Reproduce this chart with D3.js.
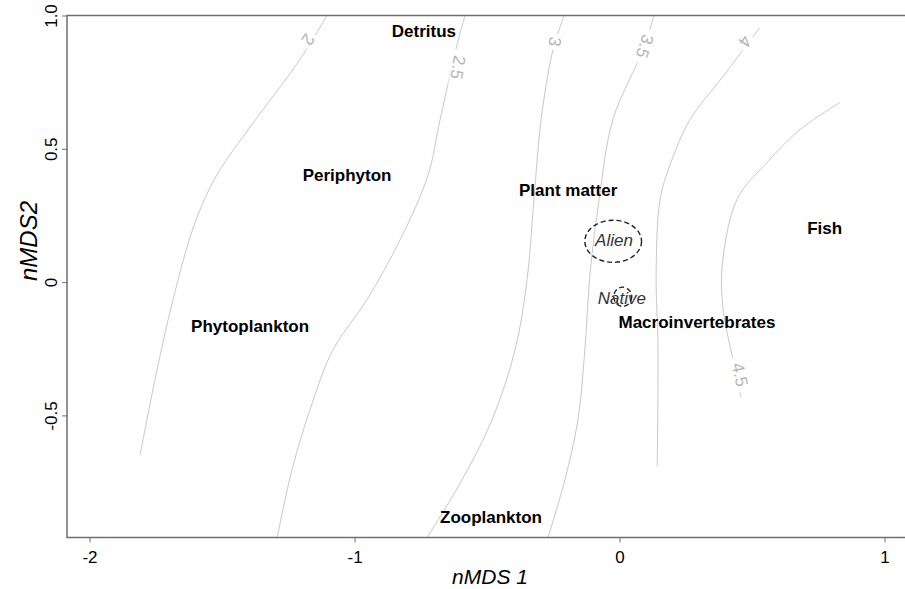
<!DOCTYPE html>
<html><head><meta charset="utf-8">
<script src="https://cdn.jsdelivr.net/npm/d3@7"></script>
<style>body{margin:0;background:#fff}svg{display:block}</style>
</head><body>
<script>
// ---- data ----
const xTicks = [-2, -1, 0, 1];
const xTickLabels = ["-2", "-1", "0", "1"];
const yTicks = [-0.5, 0, 0.5, 1.0];
const yTickLabels = ["-0.5", "0", "0.5", "1.0"];

const contourLevels = ["2", "2.5", "3", "3.5", "4", "4.5"];
const contour2 = [[-1.104,1.0],[-1.206,0.835],[-1.387,0.591],[-1.519,0.403],[-1.602,0.223],[-1.685,-0.066],[-1.753,-0.366],[-1.809,-0.647]];
const contour25 = [[-0.583,1.0],[-0.613,0.891],[-0.677,0.610],[-0.723,0.400],[-0.828,0.159],[-0.953,-0.066],[-1.081,-0.253],[-1.168,-0.478],[-1.236,-0.704],[-1.292,-0.958]];
const contour3 = [[-0.209,1.0],[-0.251,0.872],[-0.296,0.610],[-0.323,0.310],[-0.349,0.009],[-0.394,-0.253],[-0.481,-0.516],[-0.594,-0.741],[-0.726,-0.958]];
const contour35 = [[0.130,1.0],[0.089,0.872],[-0.025,0.610],[-0.077,0.310],[-0.111,0.036],[-0.130,-0.242],[-0.157,-0.516],[-0.206,-0.741],[-0.270,-0.958]];
const contour4 = [[0.530,0.955],[0.387,0.767],[0.266,0.610],[0.191,0.441],[0.153,0.310],[0.138,0.036],[0.145,-0.242],[0.142,-0.692]];
const contour45 = [[0.832,0.674],[0.681,0.572],[0.549,0.441],[0.443,0.310],[0.387,0.058],[0.391,-0.103],[0.428,-0.291],[0.458,-0.433]];
const contourLines = [contour2, contour25, contour3, contour35, contour4, contour45];
// label anchor position and angle (deg) for each contour level
const contourLabelPos = [[-1.175,0.910],[-0.609,0.805],[-0.243,0.902],[0.096,0.884],[0.474,0.902],[0.455,-0.347]];
const contourLabelAngle = [125, 100, 100, 108, 125, 78];

const foodNames = ["Detritus","Periphyton","Plant matter","Fish","Phytoplankton","Macroinvertebrates","Zooplankton"];
const foodX = [-0.738,-1.028,-0.194,0.774,-1.394,0.292,-0.485];
const foodY = [0.940,0.400,0.347,0.204,-0.163,-0.148,-0.880];

const groupNames = ["Alien","Native"];
const groupX = [-0.021,0.009];
const groupY = [0.156,-0.058];
const ellipseCX = [-0.024,0.012];
const ellipseCY = [0.153,-0.055];
const ellipseRX = [0.107,0.034];
const ellipseRY = [0.079,0.036];

// ---- drawing ----
const W = 905, H = 589;
const FONT = "'Liberation Sans', Arial, sans-serif";
const svg = d3.select("body").append("svg").attr("width", W).attr("height", H)
  .style("font-family", FONT);

const x = d3.scaleLinear().domain([-2.085, 1.096]).range([67, 910]);
const y = d3.scaleLinear().domain([-0.958, 1.0]).range([537.5, 15.5]);

const line = d3.line().x(d => x(d[0])).y(d => y(d[1])).curve(d3.curveCatmullRom);

// contour lines
svg.append("g").selectAll("path").data(contourLines).join("path")
  .attr("d", line).attr("fill", "none").attr("stroke", "#c8c8c8").attr("stroke-width", 1);

// contour labels with gaps
const cl = svg.append("g").selectAll("g").data(contourLevels).join("g")
  .attr("transform", (d, i) => `translate(${x(contourLabelPos[i][0])},${y(contourLabelPos[i][1])}) rotate(${contourLabelAngle[i]})`);
cl.append("rect").attr("fill", "#fff")
  .attr("x", d => -d.length * 4.8 - 3).attr("width", d => d.length * 9.6 + 6)
  .attr("y", -7).attr("height", 14);
cl.append("text").text(d => d).attr("text-anchor", "middle").attr("dy", "0.35em")
  .attr("font-size", 17).attr("fill", "#b4b4b4");

// frame
svg.append("rect").attr("x", x.range()[0]).attr("y", y.range()[1])
  .attr("width", x.range()[1] - x.range()[0]).attr("height", y.range()[0] - y.range()[1])
  .attr("fill", "none").attr("stroke", "#6e6e6e").attr("stroke-width", 1.5);

// x axis
const xa = svg.append("g").attr("transform", `translate(0,${y.range()[0]})`)
  .call(d3.axisBottom(x).tickValues(xTicks).tickSize(5).tickPadding(8).tickFormat((d, i) => xTickLabels[i]));
xa.select(".domain").remove();
xa.selectAll("line").attr("stroke", "#6e6e6e");
xa.selectAll("text").attr("font-size", 17).attr("fill", "#000").attr("font-family", FONT);

// y axis
const ya = svg.append("g").attr("transform", `translate(${x.range()[0]},0)`)
  .call(d3.axisLeft(y).tickValues(yTicks).tickSize(5).tickFormat((d, i) => yTickLabels[i]));
ya.select(".domain").remove();
ya.selectAll("line").attr("stroke", "#6e6e6e");
ya.selectAll("text").attr("font-size", 17).attr("fill", "#000")
  .attr("font-family", FONT)
  .attr("x", 0).attr("dy", 0).attr("text-anchor", "middle")
  .attr("transform", "translate(-10,0) rotate(-90)");

// axis titles
svg.append("text").attr("x", 490).attr("y", 584).attr("text-anchor", "middle")
  .attr("font-size", 21).attr("font-style", "italic").text("nMDS 1");
svg.append("text").attr("transform", "translate(37,241) rotate(-90)").attr("text-anchor", "middle")
  .attr("font-size", 24).attr("font-style", "italic").text("nMDS2");

// food source labels
svg.append("g").selectAll("text").data(foodNames).join("text")
  .attr("x", (d, i) => x(foodX[i])).attr("y", (d, i) => y(foodY[i])).attr("dy", "0.35em")
  .attr("text-anchor", "middle").attr("font-size", 17).attr("font-weight", "bold").attr("fill", "#000")
  .text(d => d);

// group ellipses
svg.append("g").selectAll("ellipse").data(groupNames).join("ellipse")
  .attr("cx", (d, i) => x(ellipseCX[i])).attr("cy", (d, i) => y(ellipseCY[i]))
  .attr("rx", (d, i) => x(ellipseRX[i]) - x(0)).attr("ry", (d, i) => y(0) - y(ellipseRY[i]))
  .attr("fill", "none").attr("stroke", "#222").attr("stroke-width", 1.4).attr("stroke-dasharray", "5,3");

svg.append("g").selectAll("text").data(groupNames).join("text")
  .attr("x", (d, i) => x(groupX[i])).attr("y", (d, i) => y(groupY[i])).attr("dy", "0.35em")
  .attr("text-anchor", "middle").attr("font-size", 17).attr("font-style", "italic").attr("fill", "#333")
  .text(d => d);
</script>
</body></html>
